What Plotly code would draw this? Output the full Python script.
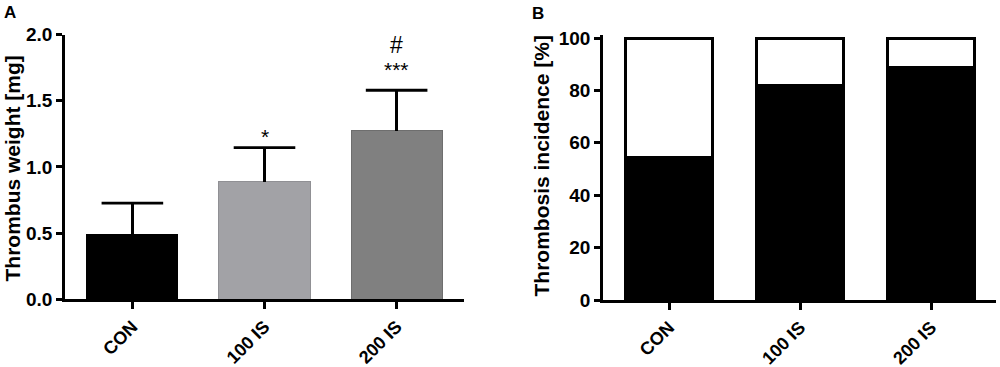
import plotly.graph_objects as go

# ---- data ----
categories = ["CON", "100 IS", "200 IS"]
weight_mean = [0.49, 0.887, 1.272]
weight_sem = [0.236, 0.259, 0.307]
weight_sig = ["", "*", "***"]
weight_sig2 = ["", "", "#"]

incidence_pct = [54.5, 81.8, 88.9]
no_incidence_pct = [100 - v for v in incidence_pct]

weight_y_ticks = [0.0, 0.5, 1.0, 1.5, 2.0]
incidence_y_ticks = [0, 20, 40, 60, 80, 100]

# ---- styles ----
FONT = "Liberation Sans, Arial, sans-serif"
bar_colors_a = ["#000000", "#a2a2a6", "#808080"]
bar_lines_a = ["#000000", "#909094", "#6e6e6e"]

xs = list(range(len(categories)))
fig = go.Figure()

# Panel A bars with upward error stems (no caps)
fig.add_trace(go.Bar(
    x=xs, y=weight_mean,
    width=0.69,
    marker=dict(color=bar_colors_a, line=dict(color=bar_lines_a, width=1)),
    error_y=dict(type="data", array=weight_sem, arrayminus=[0] * len(weight_sem),
                 symmetric=False, color="black", thickness=2.8, width=0),
    xaxis="x", yaxis="y", showlegend=False, hoverinfo="skip",
))
# error-bar caps
fig.add_trace(go.Scatter(
    x=xs, y=[m + s for m, s in zip(weight_mean, weight_sem)],
    mode="markers",
    marker=dict(symbol="line-ew", size=44, line=dict(color="black", width=2.8)),
    xaxis="x", yaxis="y", showlegend=False, hoverinfo="skip", cliponaxis=False,
))

# Panel B
fig.add_trace(go.Bar(
    x=xs, y=incidence_pct,
    width=0.67,
    marker=dict(color="black", line=dict(color="black", width=3)),
    xaxis="x2", yaxis="y2", showlegend=False,
))
fig.add_trace(go.Bar(
    x=xs, y=no_incidence_pct,
    width=0.67,
    marker=dict(color="white", line=dict(color="black", width=3)),
    xaxis="x2", yaxis="y2", showlegend=False,
))

ytickfont = dict(family=FONT, size=19, color="black", weight="bold")
xtickfont = dict(family=FONT, size=18, color="black", weight="bold")
axis_common = dict(showline=True, linecolor="black", linewidth=2.6,
                   ticks="outside", tickcolor="black", tickwidth=2.6,
                   showgrid=False, zeroline=False, automargin=False)

fig.update_layout(
    template="none",
    width=1000, height=367,
    margin=dict(l=0, r=0, t=0, b=0, pad=0),
    paper_bgcolor="white", plot_bgcolor="white",
    barmode="stack",
    xaxis=dict(domain=[0.065, 0.464], range=[-0.51, 2.51],
               tickvals=xs, ticktext=categories, tickfont=xtickfont,
               tickangle=-45, ticklen=7, **axis_common),
    yaxis=dict(domain=[1 - 299.3 / 367, 1 - 34.5 / 367], range=[0, 2.0],
               tickvals=weight_y_ticks, ticktext=[f"{v:.1f}" for v in weight_y_ticks],
               tickfont=ytickfont, ticklen=6, **axis_common),
    xaxis2=dict(domain=[0.603, 0.996], range=[-0.504, 2.496], anchor="y2",
                tickvals=xs, ticktext=categories, tickfont=xtickfont,
                tickangle=-45, ticklen=7, **axis_common),
    yaxis2=dict(domain=[1 - 300 / 367, 1 - 35.4 / 367], range=[0, 101], anchor="x2",
                tickvals=incidence_y_ticks, ticktext=[str(v) for v in incidence_y_ticks],
                tickfont=ytickfont, ticklen=6, **axis_common),
)

annotations = []
# y-axis titles
annotations.append(dict(text="Thrombus weight [mg]", x=0.012, y=1 - 168.5 / 367,
                        xref="paper", yref="paper", textangle=-90, showarrow=False,
                        font=dict(family=FONT, size=21, color="black", weight="bold"),
                        xanchor="center", yanchor="middle"))
annotations.append(dict(text="Thrombosis incidence [%]", x=0.541, y=1 - 166.5 / 367,
                        xref="paper", yref="paper", textangle=-90, showarrow=False,
                        font=dict(family=FONT, size=21, color="black", weight="bold"),
                        xanchor="center", yanchor="middle"))
# panel letters
annotations.append(dict(text="A", x=0.002, y=1 - 1 / 367, xref="paper", yref="paper",
                        showarrow=False, xanchor="left", yanchor="top",
                        font=dict(family=FONT, size=17, color="black", weight="bold")))
annotations.append(dict(text="B", x=0.530, y=1 - 2 / 367, xref="paper", yref="paper",
                        showarrow=False, xanchor="left", yanchor="top",
                        font=dict(family=FONT, size=17, color="black", weight="bold")))
# significance marks
for i, (m, s, t) in enumerate(zip(weight_mean, weight_sem, weight_sig)):
    if t:
        annotations.append(dict(text=t, x=i, y=m + s, xref="x", yref="y",
                                showarrow=False, xanchor="center", yanchor="middle",
                                yshift=11 if t == "*" else 21,
                                font=dict(family=FONT, size=21, color="black")))
for i, (m, s, t) in enumerate(zip(weight_mean, weight_sem, weight_sig2)):
    if t:
        annotations.append(dict(text=t, x=i, y=m + s, xref="x", yref="y",
                                showarrow=False, xanchor="center", yanchor="middle",
                                yshift=45,
                                font=dict(family=FONT, size=23, color="black")))
fig.update_layout(annotations=annotations)

fig.write_html("out.html",
               config={"displayModeBar": False},
               post_script="document.body.style.margin='0';document.body.style.overflow='hidden';")
